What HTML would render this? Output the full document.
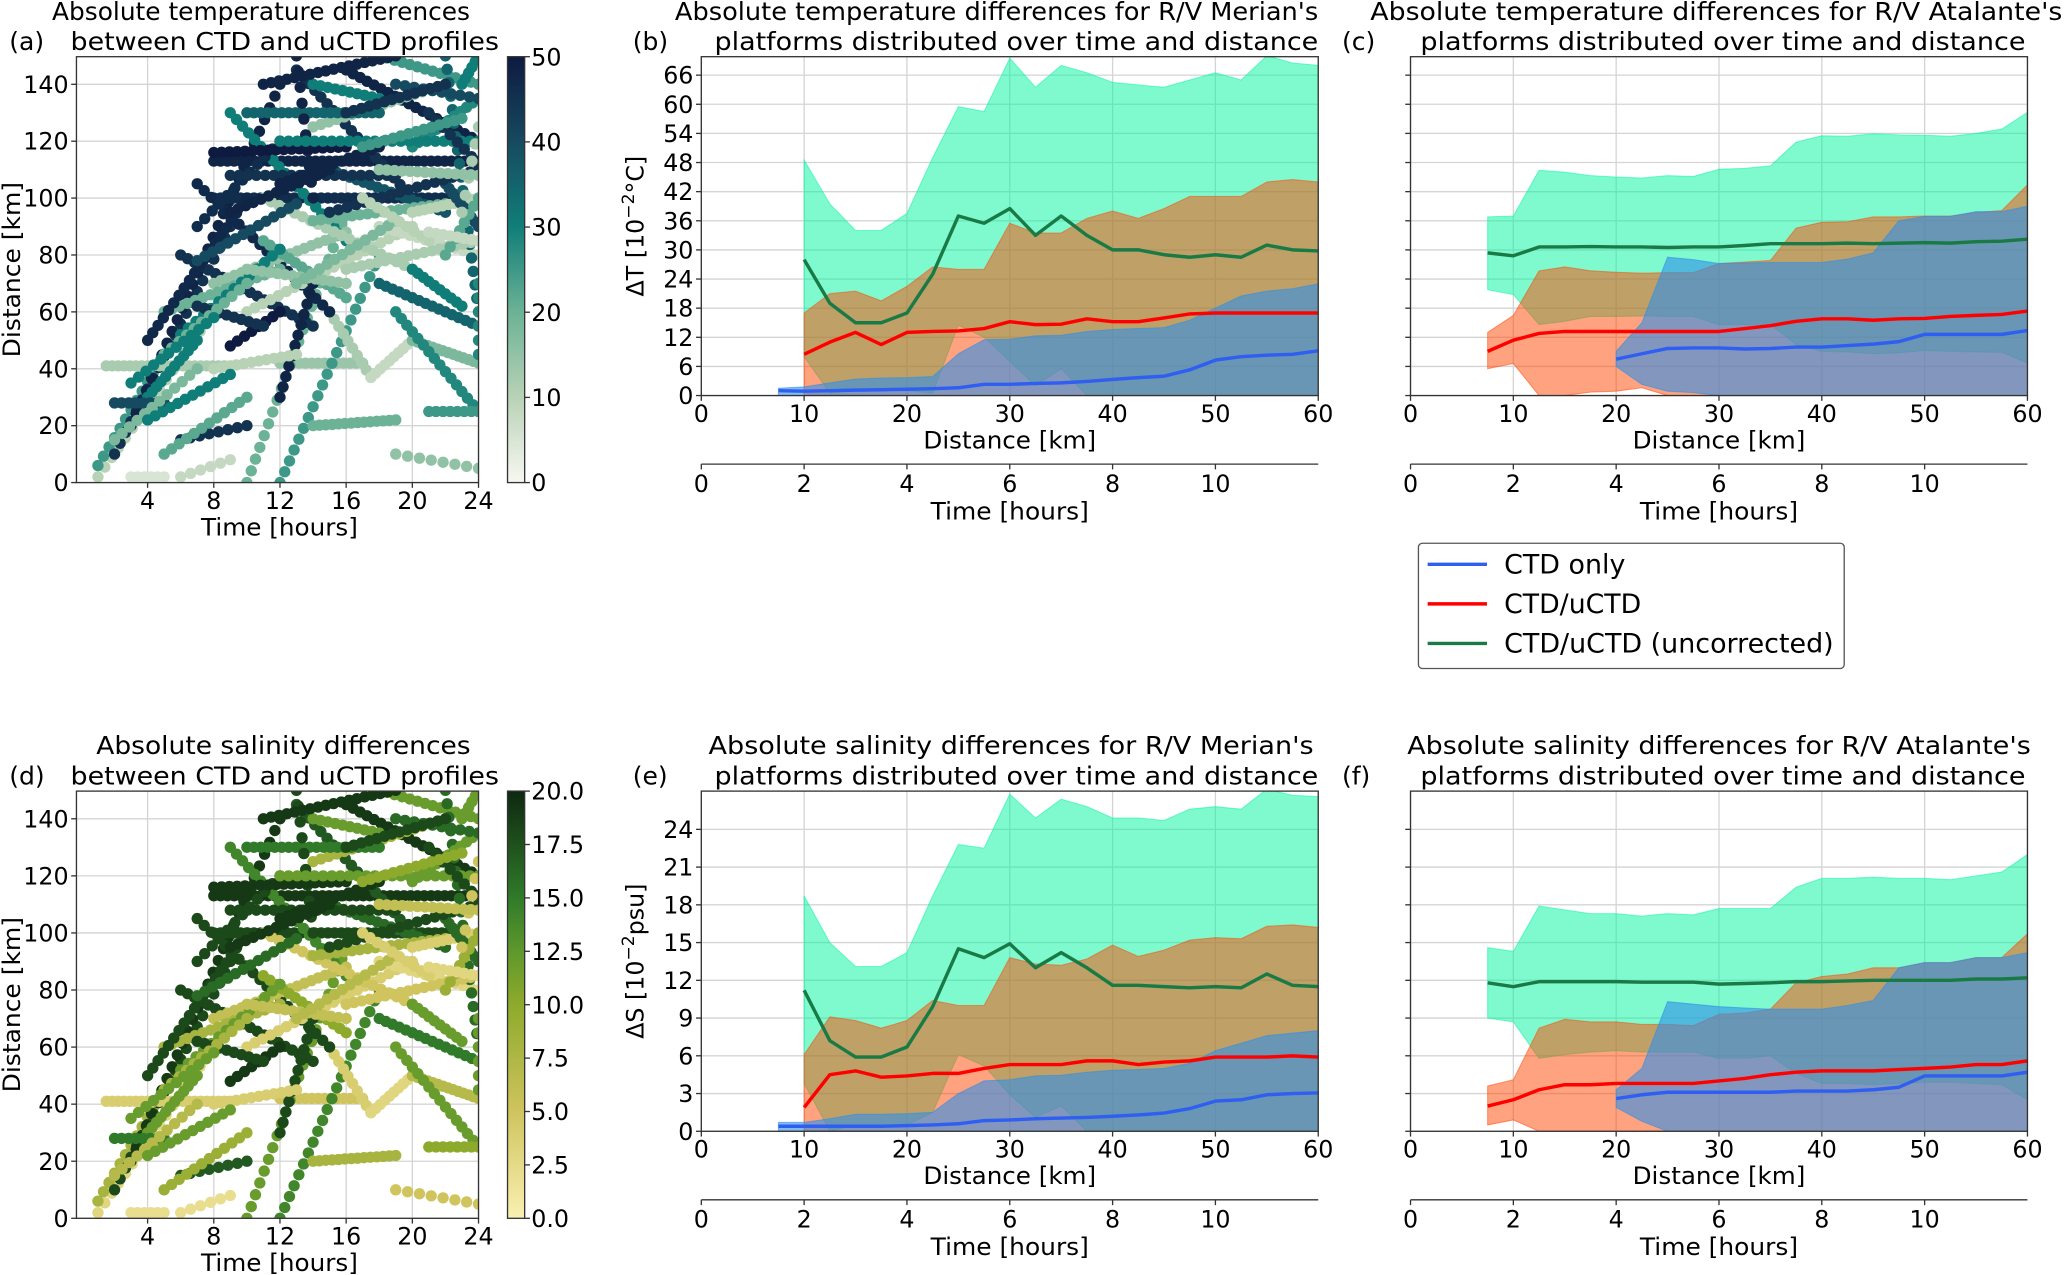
<!DOCTYPE html>
<html><head><meta charset="utf-8"><title>CTD uCTD differences</title>
<style>
html,body{margin:0;padding:0;background:#fff;}
svg{display:block;font-family:"DejaVu Sans","Liberation Sans",sans-serif;}
</style></head>
<body>
<svg id="fig" xmlns="http://www.w3.org/2000/svg" width="2067" height="1275" viewBox="0 0 1568 967" preserveAspectRatio="none"></svg>
<script>
// ===== Data: distance bins =====
const xs21 = [10,12.5,15,17.5,20,22.5,25,27.5,30,32.5,35,37.5,40,42.5,45,47.5,50,52.5,55,57.5,60];
const xs22 = [7.5,10,12.5,15,17.5,20,22.5,25,27.5,30,32.5,35,37.5,40,42.5,45,47.5,50,52.5,55,57.5,60];
const xs17 = [20,22.5,25,27.5,30,32.5,35,37.5,40,42.5,45,47.5,50,52.5,55,57.5,60];

// Panel b: temperature, Merian
const bGreenMed = [28,19,15,15,17,25,37,35.5,38.5,33,37,33,30,30,29,28.5,29,28.5,31,30,29.8];
const bGreenHi = [48.5,39.5,34,34,37.5,49,59.5,58.5,69.5,63.5,68,66.5,64.5,64,63.5,65,66.5,65,70,68.5,68];
const bGreenLo = [8,0.5,1,1,1,0.5,14.5,12,7,2,5.5,0,0,0,0,0,0,0,0,0,0];
const bRedMed = [8.5,11,13,10.5,13,13.2,13.3,13.8,15.2,14.6,14.7,15.8,15.2,15.2,16,16.8,17,17,17,17,17];
const bRedHi = [17,21,21.5,19.5,22.5,26.5,26,26,35.5,33.5,33.5,36.5,38,36.5,38.5,41,41,41,44,44.5,44];
const bRedLo = [0,0,0,0,0,0,0,0,0,0,0,0,0,0,0,0,0,0,0,0,0];
const bBlueMed = [1,0.9,1,1.1,1.2,1.3,1.4,1.6,2.3,2.3,2.5,2.6,2.9,3.3,3.7,4,5.3,7.3,8,8.3,8.5,9.2];
const bBlueHi = [1.5,1.8,2.6,3.4,3.6,3.7,3.9,8.6,11.5,11.6,12.3,12.4,13.2,13.6,13.8,14,15.5,18,20.5,21.5,22,23];
const bBlueLo = [0,0,0,0,0,0,0,0,0,0,0,0,0,0,0,0,0,0,0,0,0,0];

// Panel c: temperature, Atalante
const cGreenMed = [29.4,28.8,30.6,30.6,30.7,30.6,30.6,30.5,30.6,30.6,30.9,31.3,31.3,31.3,31.4,31.3,31.4,31.5,31.4,31.7,31.8,32.2];
const cGreenHi = [36.8,37,46.4,46,45.3,45,44.8,45.3,45.1,46.6,46.8,47.3,52.2,53.5,53.4,53.9,53.7,53.6,53.4,54,54.9,58.3];
const cGreenLo = [21.8,20.8,14.6,15.3,16.3,16.3,16.4,16.3,16.3,14.6,14.6,14.6,10.5,9.1,9,8.6,8.8,9.3,9.1,9,8.9,6.7];
const cRedMed = [9.1,11.4,12.8,13.2,13.2,13.2,13.2,13.2,13.2,13.2,13.8,14.4,15.3,15.8,15.8,15.5,15.8,15.9,16.3,16.5,16.7,17.4];
const cRedHi = [13,16.5,25.7,26.5,25.7,25.4,25.2,25.3,25.3,27.2,27.5,27.8,34.5,35.7,35.8,36.8,36.8,37,37,37.7,38.1,43.4];
const cRedLo = [5.5,6.6,0,0,0.7,0.9,1.6,0,0,0,0,0,0,0,0,0,0,0,0,0,0,0];
const cBlueMed = [7.5,8.6,9.7,9.8,9.8,9.6,9.7,10,10,10.3,10.6,11.1,12.6,12.6,12.6,12.6,13.4];
const cBlueHi = [9.1,15,28.5,28,27.2,27.3,27.4,27.4,27.4,28.1,29.4,36,36.9,36.9,37.9,37.9,39];
const cBlueLo = [6,2.3,0.9,0.6,0,0,0,0,0,0,0,0,0,0,0,0,0];

// Panel e: salinity, Merian
const eGreenMed = [11.2,7.2,5.9,5.9,6.7,9.9,14.5,13.8,14.9,13,14.2,13,11.6,11.6,11.5,11.4,11.5,11.4,12.5,11.6,11.5];
const eGreenHi = [18.7,15,13.1,13.1,14.2,18.7,22.8,22.5,26.8,24.9,26.4,25.8,24.9,24.9,24.7,25.6,25.8,25.6,27.2,26.7,26.6];
const eGreenLo = [3.8,0,0.5,0.5,0.5,1.5,6.1,5.2,2.9,1.1,2,0,0,0,0,0,0,0,0,0,0];
const eRedMed = [1.9,4.5,4.8,4.3,4.4,4.6,4.6,5,5.3,5.3,5.3,5.6,5.6,5.3,5.5,5.6,5.9,5.9,5.9,6,5.9];
const eRedHi = [6.1,9.1,8.8,8.2,8.8,10.4,10,10,13.8,13.3,13.2,13.7,14.8,13.9,14.4,15.2,15.4,15.3,16.3,16.4,16.2];
const eRedLo = [0,0,0,0,0,0,0,0,0,0,0,0,0,0,0,0,0,0,0,0,0];
const eBlueMed = [0.4,0.4,0.4,0.4,0.4,0.45,0.5,0.6,0.85,0.9,1,1.05,1.1,1.2,1.3,1.45,1.8,2.4,2.5,2.9,3,3.05];
const eBlueHi = [0.7,0.7,1,1.35,1.35,1.4,1.5,3,4,4.1,4.4,4.45,4.7,4.85,4.9,5,5.4,6.4,7,7.6,7.8,8];
const eBlueLo = [0,0,0,0,0,0,0,0,0,0,0,0,0,0,0,0,0,0,0,0,0,0];

// Panel f: salinity, Atalante
const fGreenMed = [11.8,11.5,11.9,11.9,11.9,11.9,11.85,11.85,11.85,11.7,11.75,11.8,11.9,11.9,11.95,12,12,12,12,12.1,12.1,12.2];
const fGreenHi = [14.6,14.3,17.9,17.6,17.3,17.3,17.1,17.3,17.2,17.7,17.7,17.7,19.4,20.1,20.1,20.2,20.1,20.1,20,20.3,20.6,22];
const fGreenLo = [9,8.7,5.8,6.1,6.3,6.4,6.3,6.3,6.3,5.8,5.8,6,4.6,3.8,3.8,3.7,3.8,3.9,3.9,3.8,3.7,2.5];
const fRedMed = [2,2.5,3.3,3.7,3.7,3.8,3.8,3.8,3.8,4,4.2,4.5,4.7,4.8,4.8,4.8,4.9,5,5.1,5.3,5.3,5.6];
const fRedHi = [3.6,4.1,8.2,8.9,8.7,8.7,8.5,8.5,8.4,9.3,9.4,9.7,11.8,12.3,12.5,13,13,13.4,13.4,13.8,13.8,15.7];
const fRedLo = [0.5,0.9,0,0,0,0,0,0,0,0,0,0,0,0,0,0,0,0,0,0,0,0];
const fBlueMed = [2.6,2.9,3.1,3.1,3.1,3.1,3.1,3.2,3.2,3.2,3.3,3.5,4.4,4.4,4.4,4.4,4.7];
const fBlueHi = [3.3,5,10.3,10.1,9.9,9.8,9.7,9.7,9.7,10,10.4,13,13.4,13.4,13.8,13.8,14.2];
const fBlueLo = [1.9,0.8,0,0,0,0,0,0,0,0,0,0,0,0,0,0,0];

// Tick labels
const distTicks = [0,10,20,30,40,50,60];
const timeTicks = [0,2,4,6,8,10];
const tempTicks = [0,6,12,18,24,30,36,42,48,54,60,66];
const salTicks = [0,3,6,9,12,15,18,21,24];
const scatXTicks = [4,8,12,16,20,24];
const scatYTicks = [0,20,40,60,80,100,120,140];
const cbarTTicks = [0,10,20,30,40,50];
const cbarSTicks = ['0.0','2.5','5.0','7.5','10.0','12.5','15.0','17.5','20.0'];

// Scatter tracks: [t0 (h), d0 (km)] -> [t1, d1], point count, |dT|, |dS|
const trackStart = [[1,2],[1,6],[2,10],[3,20],[1.5,41],[12,42],[8,113],[8,100],[10,0],[12,0],[15,60],[17.5,37],[20,50],[19,60],[21,25],[14,20],[6,80],[7,105],[9,130],[13,145],[16,145],[18,150],[14,125],[8,70],[10,60],[18,90],[5,60],[11,100],[4,30],[2,28],[6,15],[10,130],[22,150],[12,30],[3,2],[6,2],[19,10],[13,150],[9,48],[4,50],
 [15,110],[20,118],[11,85],[7,90],[8,116],[9,108],[12,120],[14,92],[16,75],[18,70],[20,95],[22,105],[21,130],[23,140],[6,52],[7,62],[5,45],[3,35],[2,15],[8,40],[10,75],[12,105],[14,140],[17,118],[19,140],[13,70],[15,95],[17,100],[20,75],[22,80],[23,95],[11,140],[9,95],[7,78],[4,22],[5,10],[16,130],[18,110],[21,88],[24,70]];
const trackEnd = [[8,60],[6,55],[9,90],[12,140],[9,41],[17,42],[24,113],[23,100],[16,95],[18,80],[17.5,37],[20,50],[24,42],[24,25],[24,25],[19,22],[14,55],[15,60],[16,85],[20,100],[24,120],[24,140],[22,140],[16,88],[20,90],[24,80],[12,75],[20,75],[7,50],[5,28],[10,20],[18,130],[24,60],[14,70],[5,2],[9,8],[24,5],[14,100],[12,60],[10,100],
 [22,95],[24,135],[16,65],[12,120],[16,118],[19,108],[24,120],[22,98],[24,85],[24,55],[24,100],[24,90],[24,112],[24,150],[12,82],[11,55],[10,70],[8,58],[7,40],[13,45],[16,70],[18,118],[18,135],[23,128],[24,135],[19,92],[24,110],[21,85],[23,62],[24,100],[24,125],[19,150],[15,110],[13,98],[9,38],[10,30],[22,140],[24,108],[24,85],[24,45]];
const trackCount = [18,16,22,30,22,14,40,38,24,22,10,10,14,16,8,14,20,20,20,20,20,14,18,20,22,14,16,20,12,8,8,20,20,12,6,6,8,10,8,20,
 18,12,14,12,18,20,24,18,18,16,12,10,8,6,14,10,12,12,12,12,14,14,10,14,10,14,18,10,10,8,6,18,14,14,12,12,14,14,8,6];
const trackTemp = [10,25,45,48,12,14,48,46,20,25,12,8,18,28,25,20,45,47,30,45,48,25,15,15,10,8,20,12,30,40,45,35,35,48,5,8,15,48,50,47,
 38,28,22,46,50,45,30,20,12,35,10,40,45,30,30,45,20,30,18,10,15,48,30,25,40,18,45,10,30,22,12,48,48,40,30,22,45,15,8,28];
const trackSal = [3,8,18,19,4,5,19,18,12,14,4,3,7,12,10,8,18,18,14,17,19,12,8,6,4,3,8,5,12,15,17,15,16,18,2,2,5,18,19,18,
 16,12,10,18,19,18,12,8,5,15,4,16,18,12,12,18,8,12,7,4,6,19,12,10,16,7,18,4,12,9,5,19,19,16,12,9,18,6,3,12];

// ===== Rendering =====
const NS = 'http://www.w3.org/2000/svg';
const svg = document.getElementById('fig');
function mk(tag, attrs, parent) {
  const e = document.createElementNS(NS, tag);
  for (const k in attrs) e.setAttribute(k, attrs[k]);
  (parent || svg).appendChild(e);
  return e;
}
function txt(s, x, y, size, anchor, parent, extra) {
  const t = mk('text', Object.assign({x: x, y: y, 'font-size': size, 'text-anchor': anchor || 'middle', fill: '#000'}, extra || {}), parent);
  t.textContent = s;
  return t;
}
function lin(d0, d1, r0, r1) { return v => r0 + (v - d0) * (r1 - r0) / (d1 - d0); }

let clipId = 0;
function linePanel(cfg) {
  const g = mk('g', {});
  
  
  const sx = lin(0, 60, cfg.x0, cfg.x1);
  const sy = lin(0, cfg.ymax, cfg.yb, cfg.yt);
  cfg.yticks.forEach(v => {
    const gl = mk('line', {x1: cfg.x0, x2: cfg.x1, y1: sy(v), y2: sy(v), stroke: '#d4d4d4', 'stroke-width': 1}, g);
    
    
  });
  distTicks.forEach(v => {
    const gl = mk('line', {x1: sx(v), x2: sx(v), y1: cfg.yt, y2: cfg.yb, stroke: '#d4d4d4', 'stroke-width': 1}, g);
    
    
  });
  const cid = 'clip' + (clipId++);
  const cp = mk('clipPath', {id: cid}, g);
  mk('rect', {x: cfg.x0, y: cfg.yt, width: cfg.x1 - cfg.x0, height: cfg.yb - cfg.yt}, cp);
  const plot = mk('g', {'clip-path': 'url(#' + cid + ')'}, g);
  function band(xsArr, lo, hi, fill, op, name) {
    let d = '';
    xsArr.forEach((x, i) => { d += (i ? 'L' : 'M') + sx(x).toFixed(1) + ',' + sy(hi[i]).toFixed(1); });
    for (let i = xsArr.length - 1; i >= 0; i--) d += 'L' + sx(xsArr[i]).toFixed(1) + ',' + sy(lo[i]).toFixed(1);
    const p = mk('path', {d: d + 'Z', fill: fill, 'fill-opacity': op, stroke: fill, 'stroke-opacity': op, 'stroke-width': 0.8}, plot);
    
    
  }
  function line(xsArr, ys, color, name) {
    const pts = xsArr.map((x, i) => sx(x).toFixed(1) + ',' + sy(ys[i]).toFixed(1)).join(' ');
    const p = mk('polyline', {points: pts, fill: 'none', stroke: color, 'stroke-width': 2.6, 'stroke-linejoin': 'round'}, plot);
    
    
  }
  band(cfg.gx, cfg.gLo, cfg.gHi, '#00f59f', 0.5, 'uncorrected-range-band');
  band(cfg.gx, cfg.rLo, cfg.rHi, '#ff4500', 0.5, 'ctd-uctd-range-band');
  band(cfg.bx, cfg.bLo, cfg.bHi, '#318fe8', 0.6, 'ctd-only-range-band');
  line(cfg.gx, cfg.gMed, '#1a7a45', 'uncorrected-median-line');
  line(cfg.gx, cfg.rMed, '#ff0000', 'ctd-uctd-median-line');
  line(cfg.bx, cfg.bMed, '#2f5ff0', 'ctd-only-median-line');
  const fr = mk('rect', {x: cfg.x0, y: cfg.yt, width: cfg.x1 - cfg.x0, height: cfg.yb - cfg.yt, fill: 'none', stroke: '#333', 'stroke-width': 1}, g);
  
  
  cfg.yticks.forEach(v => {
    mk('line', {x1: cfg.x0 - 4, x2: cfg.x0, y1: sy(v), y2: sy(v), stroke: '#333', 'stroke-width': 1}, g);
    if (cfg.ylabels) {
      const t = txt(String(v), cfg.x0 - 6, sy(v) + 6.5, 18, 'end', g);
      
      
    }
  });
  distTicks.forEach(v => {
    mk('line', {x1: sx(v), x2: sx(v), y1: cfg.yb, y2: cfg.yb + 4, stroke: '#333', 'stroke-width': 1}, g);
    const t = txt(String(v), sx(v), cfg.yb + 20, 18, 'middle', g);
    
    
  });
  const xl = txt('Distance [km]', (cfg.x0 + cfg.x1) / 2, cfg.yb + 40, 18, 'middle', g, {textLength: 131, lengthAdjust: 'spacingAndGlyphs'});
  
  
  const st = lin(0, 12, cfg.x0, cfg.x1);
  const ty = cfg.yb + 52;
  mk('line', {x1: cfg.x0, x2: cfg.x1, y1: ty, y2: ty, stroke: '#333', 'stroke-width': 1}, g);
  timeTicks.forEach(v => {
    mk('line', {x1: st(v), x2: st(v), y1: ty, y2: ty + 4, stroke: '#333', 'stroke-width': 1}, g);
    const t = txt(String(v), st(v), ty + 21, 18, 'middle', g);
    
    
  });
  const tl = txt('Time [hours]', (cfg.x0 + cfg.x1) / 2, ty + 42, 18, 'middle', g, {textLength: 120, lengthAdjust: 'spacingAndGlyphs'});
  
  
  if (cfg.ytitle) {
    const cy = (cfg.yt + cfg.yb) / 2;
    const yt = mk('text', {x: 0, y: 0, 'font-size': 18, 'text-anchor': 'middle', transform: 'translate(' + (cfg.x0 - 44) + ',' + cy + ') rotate(-90)'}, g);
    yt.innerHTML = cfg.ytitle;
    
    
  }
  const t1 = txt(cfg.title1, cfg.tc, cfg.yt - 28, 19, 'middle', g, {textLength: cfg.tw1, lengthAdjust: 'spacingAndGlyphs'});
  
  
  const t2 = txt(cfg.title2, cfg.tc2, cfg.yt - 5, 19, 'middle', g, {textLength: cfg.tw2, lengthAdjust: 'spacingAndGlyphs'});
  
  
  const pl = txt(cfg.letter, cfg.lx, cfg.yt - 5, 19, 'start', g);
  
  
}

function lerpCol(stops, v) {
  for (let i = 0; i < stops.length - 1; i++) {
    const a = stops[i], b = stops[i + 1];
    if (v <= b[0]) {
      const f = (v - a[0]) / (b[0] - a[0]);
      const c = [0, 1, 2].map(k => Math.round(a[1][k] + (b[1][k] - a[1][k]) * f));
      return 'rgb(' + c.join(',') + ')';
    }
  }
  const l = stops[stops.length - 1][1];
  return 'rgb(' + l.join(',') + ')';
}
const cmapT = [[0,[248,247,242]],[10,[184,210,182]],[20,[108,178,150]],[30,[16,126,120]],[40,[22,74,96]],[50,[14,26,64]]];
const cmapS = [[0,[250,240,178]],[5,[207,196,94]],[10,[142,170,44]],[12.5,[94,152,44]],[15,[48,122,42]],[20,[14,40,16]]];

function scatterPanel(cfg) {
  const g = mk('g', {});
  
  
  const sx = lin(-0.3, 24, 58, 363);
  const sy = lin(0, 149.7, cfg.yb, cfg.yt);
  scatYTicks.forEach(v => mk('line', {x1: 58, x2: 363, y1: sy(v), y2: sy(v), stroke: '#d4d4d4'}, g));
  scatXTicks.forEach(v => mk('line', {x1: sx(v), x2: sx(v), y1: cfg.yt, y2: cfg.yb, stroke: '#d4d4d4'}, g));
  const cid = 'clip' + (clipId++);
  const cp = mk('clipPath', {id: cid}, g);
  mk('rect', {x: 58, y: cfg.yt, width: 305, height: cfg.yb - cfg.yt}, cp);
  const pg = mk('g', {'clip-path': 'url(#' + cid + ')'}, g);
  trackStart.forEach((s, i) => {
    const e = trackEnd[i], n = trackCount[i];
    const val = cfg.vals[i];
    for (let k = 0; k < n; k++) {
      const f = n > 1 ? k / (n - 1) : 0;
      const t = s[0] + (e[0] - s[0]) * f, d = s[1] + (e[1] - s[1]) * f;
      const c = mk('circle', {cx: sx(t).toFixed(1), cy: sy(d).toFixed(1), r: 4.3, fill: lerpCol(cfg.cmap, val)}, pg);
      
      
    }
  });
  mk('rect', {x: 58, y: cfg.yt, width: 305, height: cfg.yb - cfg.yt, fill: 'none', stroke: '#333'}, g);
  scatYTicks.forEach(v => {
    mk('line', {x1: 54, x2: 58, y1: sy(v), y2: sy(v), stroke: '#333'}, g);
    const t = txt(String(v), 52, sy(v) + 6.5, 18, 'end', g);
    
    
  });
  scatXTicks.forEach(v => {
    mk('line', {x1: sx(v), x2: sx(v), y1: cfg.yb, y2: cfg.yb + 4, stroke: '#333'}, g);
    const t = txt(String(v), sx(v), cfg.yb + 20, 18, 'middle', g);
    
    
  });
  const xl = txt('Time [hours]', 212, cfg.yb + 40, 18, 'middle', g, {textLength: 119, lengthAdjust: 'spacingAndGlyphs'});
  
  
  const cy = (cfg.yt + cfg.yb) / 2;
  const yl = txt('Distance [km]', 0, 0, 18, 'middle', g, {transform: 'translate(15,' + cy + ') rotate(-90)', textLength: 133, lengthAdjust: 'spacingAndGlyphs'});
  
  
  const gid = 'grad' + (clipId++);
  const grad = mk('linearGradient', {id: gid, x1: 0, y1: 1, x2: 0, y2: 0}, g);
  const top = cfg.cmap[cfg.cmap.length - 1][0];
  cfg.cmap.forEach(s => mk('stop', {offset: s[0] / top, 'stop-color': 'rgb(' + s[1].join(',') + ')'}, grad));
  const cb = mk('rect', {x: 385, y: cfg.yt, width: 13, height: cfg.yb - cfg.yt, fill: 'url(#' + gid + ')', stroke: '#333'}, g);
  
  
  const n = cfg.cbTicks.length;
  cfg.cbTicks.forEach((lab, i) => {
    const y = cfg.yb - (cfg.yb - cfg.yt) * i / (n - 1);
    mk('line', {x1: 398, x2: 402, y1: y, y2: y, stroke: '#333'}, g);
    const t = txt(String(lab), 403, y + 6.5, 18, 'start', g);
    
    
  });
  const t1 = txt(cfg.title1, cfg.tc1, cfg.yt - 28, 19, 'middle', g, {textLength: cfg.tw1, lengthAdjust: 'spacingAndGlyphs'});
  
  
  const t2 = txt('between CTD and uCTD profiles', 216, cfg.yt - 5, 19, 'middle', g, {textLength: 325, lengthAdjust: 'spacingAndGlyphs'});
  
  
  const pl = txt(cfg.letter, 7, cfg.yt - 5, 19, 'start', g);
  
  
}

scatterPanel({name: 'panel-a-temperature-scatter', yt: 43, yb: 366, vals: trackTemp, cmap: cmapT, cbTicks: cbarTTicks,
  title1: 'Absolute temperature differences', tc1: 198, tw1: 317, letter: '(a)'});
scatterPanel({name: 'panel-d-salinity-scatter', yt: 600, yb: 924, vals: trackSal, cmap: cmapS, cbTicks: cbarSTicks,
  title1: 'Absolute salinity differences', tc1: 215, tw1: 284, letter: '(d)'});

linePanel({name: 'panel-b-temperature-merian', x0: 532, x1: 1000, yt: 43, yb: 300, ymax: 69.8, yticks: tempTicks, ylabels: true,
  ytitle: 'ΔT [10<tspan dy="-7" font-size="13">−2</tspan><tspan dy="7">°C]</tspan>',
  gx: xs21, gMed: bGreenMed, gHi: bGreenHi, gLo: bGreenLo, rMed: bRedMed, rHi: bRedHi, rLo: bRedLo,
  bx: xs22, bMed: bBlueMed, bHi: bBlueHi, bLo: bBlueLo,
  title1: "Absolute temperature differences for R/V Merian's", tc: 756, tw1: 488,
  title2: 'platforms distributed over time and distance', tc2: 771, tw2: 458, letter: '(b)', lx: 480});
linePanel({name: 'panel-c-temperature-atalante', x0: 1070, x1: 1538, yt: 43, yb: 300, ymax: 69.8, yticks: tempTicks, ylabels: false,
  gx: xs22, gMed: cGreenMed, gHi: cGreenHi, gLo: cGreenLo, rMed: cRedMed, rHi: cRedHi, rLo: cRedLo,
  bx: xs17, bMed: cBlueMed, bHi: cBlueHi, bLo: cBlueLo,
  title1: "Absolute temperature differences for R/V Atalante's", tc: 1302, tw1: 525,
  title2: 'platforms distributed over time and distance', tc2: 1307, tw2: 459, letter: '(c)', lx: 1018});
linePanel({name: 'panel-e-salinity-merian', x0: 532, x1: 1000, yt: 600, yb: 858, ymax: 27.04, yticks: salTicks, ylabels: true,
  ytitle: 'ΔS [10<tspan dy="-7" font-size="13">−2</tspan><tspan dy="7">psu]</tspan>',
  gx: xs21, gMed: eGreenMed, gHi: eGreenHi, gLo: eGreenLo, rMed: eRedMed, rHi: eRedHi, rLo: eRedLo,
  bx: xs22, bMed: eBlueMed, bHi: eBlueHi, bLo: eBlueLo,
  title1: "Absolute salinity differences for R/V Merian's", tc: 767, tw1: 459,
  title2: 'platforms distributed over time and distance', tc2: 771, tw2: 458, letter: '(e)', lx: 480});
linePanel({name: 'panel-f-salinity-atalante', x0: 1070, x1: 1538, yt: 600, yb: 858, ymax: 27.04, yticks: salTicks, ylabels: false,
  gx: xs22, gMed: fGreenMed, gHi: fGreenHi, gLo: fGreenLo, rMed: fRedMed, rHi: fRedHi, rLo: fRedLo,
  bx: xs17, bMed: fBlueMed, bHi: fBlueHi, bLo: fBlueLo,
  title1: "Absolute salinity differences for R/V Atalante's", tc: 1304, tw1: 473,
  title2: 'platforms distributed over time and distance', tc2: 1307, tw2: 459, letter: '(f)', lx: 1018});

// Legend
const lg = mk('g', {});


mk('rect', {x: 1076, y: 412, width: 323, height: 95, rx: 3, fill: '#fff', stroke: '#555', 'stroke-width': 1}, lg);
const legNames = ['CTD only', 'CTD/uCTD', 'CTD/uCTD (uncorrected)'];
const legColors = ['#2f5ff0', '#ff0000', '#1a7a45'];
const legW = [92, 104, 250];
legNames.forEach((n, i) => {
  const y = 428 + i * 30;
  const l = mk('line', {x1: 1083, x2: 1128, y1: y, y2: y, stroke: legColors[i], 'stroke-width': 2.6}, lg);
  
  
  const t = txt(n, 1141, y + 7, 20, 'start', lg, {textLength: legW[i], lengthAdjust: 'spacingAndGlyphs'});
  
  
});
</script>
</body></html>
